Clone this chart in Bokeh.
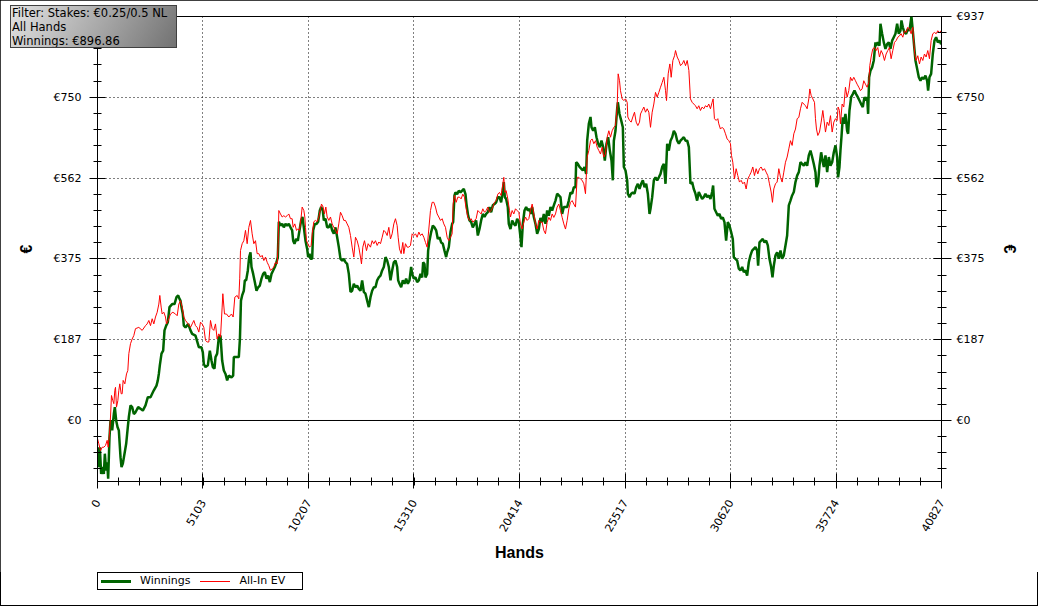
from math import pi
from bokeh.embed import file_html
from bokeh.layouts import column
from bokeh.models import Div, FixedTicker, LinearAxis, Range1d, Span
from bokeh.plotting import figure
from bokeh.resources import INLINE

# axis ticks
x_ticks = [0, 5103, 10207, 15310, 20414, 25517, 30620, 35724, 40827]
y_ticks = [0, 187.4, 374.8, 562.2, 749.6, 937]
y_labels = ["€0", "€187", "€375", "€562", "€750", "€937"]

# All-In EV (red)
ev_hands = [0, 64, 145, 226, 306, 387, 468, 516, 580, 629, 677, 742, 790, 838, 871, 919, 984, 1032, 1080,
            1145, 1193, 1241, 1322, 1403, 1467, 1516, 1596, 1677, 1757, 1838, 1999, 2161, 2322, 2402, 2483,
            2564, 2644, 2725, 2805, 2886, 2967, 3015, 3080, 3128, 3209, 3289, 3338, 3418, 3531, 3644, 3773,
            3854, 3934, 4015, 4095, 4176, 4257, 4386, 4498, 4579, 4660, 4740, 4821, 4902, 4982, 5063, 5143,
            5224, 5305, 5385, 5466, 5547, 5627, 5708, 5788, 5869, 5950, 6030, 6063, 6143, 6240, 6353, 6482,
            6562, 6643, 6756, 6836, 6880, 6917, 6998, 7078, 7159, 7240, 7320, 7401, 7481, 7562, 7643, 7723,
            7804, 7884, 7965, 8046, 8126, 8207, 8288, 8368, 8449, 8529, 8610, 8691, 8739, 8771, 8852, 8933,
            9013, 9094, 9174, 9255, 9335, 9416, 9465, 9545, 9626, 9690, 9771, 9851, 9900, 9981, 10029, 10061,
            10110, 10174, 10255, 10335, 10384, 10464, 10545, 10625, 10706, 10787, 10835, 10916, 10980, 11045,
            11109, 11190, 11270, 11351, 11431, 11512, 11593, 11673, 11754, 11835, 11915, 11996, 12076, 12157,
            12238, 12318, 12399, 12479, 12560, 12641, 12721, 12770, 12834, 12915, 13012, 13092, 13205, 13286,
            13366, 13447, 13528, 13608, 13689, 13770, 13850, 13931, 14011, 14092, 14173, 14253, 14334, 14414,
            14495, 14544, 14608, 14689, 14769, 14817, 14898, 14979, 15059, 15140, 15221, 15301, 15382, 15462,
            15543, 15624, 15704, 15785, 15865, 15946, 16027, 16107, 16188, 16269, 16349, 16430, 16510, 16591,
            16672, 16752, 16833, 16913, 16994, 17075, 17155, 17204, 17268, 17349, 17429, 17510, 17591, 17671,
            17752, 17833, 17913, 17994, 18075, 18155, 18236, 18316, 18397, 18478, 18558, 18639, 18720, 18800,
            18881, 18961, 19042, 19123, 19203, 19284, 19365, 19445, 19526, 19607, 19655, 19703, 19768, 19848,
            19929, 19977, 20058, 20139, 20219, 20300, 20380, 20461, 20542, 20622, 20703, 20784, 20864, 20945,
            21026, 21106, 21187, 21267, 21348, 21428, 21509, 21590, 21670, 21751, 21832, 21912, 21993, 22074,
            22154, 22235, 22316, 22396, 22477, 22557, 22638, 22719, 22799, 22880, 22961, 23041, 23122, 23203,
            23283, 23364, 23445, 23525, 23606, 23687, 23767, 23848, 23928, 24009, 24090, 24170, 24251, 24332,
            24412, 24493, 24574, 24654, 24735, 24816, 24896, 24977, 25057, 25138, 25186, 25251, 25299, 25380,
            25461, 25541, 25622, 25654, 25735, 25816, 25896, 25977, 26058, 26138, 26219, 26267, 26348, 26428,
            26509, 26590, 26670, 26751, 26832, 26912, 26993, 27074, 27154, 27235, 27316, 27396, 27477, 27525,
            27606, 27687, 27751, 27832, 27913, 27961, 28042, 28122, 28203, 28284, 28364, 28445, 28526, 28606,
            28683, 28764, 28844, 28925, 29006, 29086, 29167, 29248, 29328, 29409, 29489, 29570, 29651, 29731,
            29780, 29844, 29925, 30006, 30054, 30135, 30215, 30296, 30377, 30457, 30538, 30619, 30667, 30731,
            30812, 30893, 30973, 31054, 31135, 31215, 31296, 31377, 31457, 31538, 31618, 31699, 31780, 31860,
            31941, 32022, 32102, 32183, 32264, 32344, 32425, 32505, 32586, 32651, 32715, 32796, 32876, 32957,
            33038, 33118, 33199, 33280, 33360, 33441, 33521, 33602, 33683, 33763, 33844, 33925, 34005, 34086,
            34167, 34247, 34328, 34408, 34457, 34521, 34602, 34683, 34731, 34779, 34844, 34925, 35005, 35086,
            35135, 35215, 35296, 35377, 35457, 35538, 35618, 35699, 35778, 35826, 35891, 35939, 36020, 36100,
            36181, 36262, 36342, 36423, 36504, 36584, 36665, 36745, 36826, 36907, 36987, 37068, 37149, 37229,
            37310, 37358, 37423, 37503, 37584, 37665, 37745, 37826, 37907, 37987, 38068, 38149, 38229, 38310,
            38390, 38471, 38552, 38632, 38713, 38793, 38874, 38955, 39035, 39116, 39197, 39277, 39358, 39438,
            39487, 39535, 39600, 39680, 39761, 39842, 39922, 40003, 40083, 40164, 40245, 40325, 40406, 40487,
            40567, 40648, 40728, 40809, 40827]
ev_values = [-42, -54, -70, -62, -62, -58, -46, -62, -31, 8, 58, 46, 39, 70, 77, 31, 46, 70, 85,
             62, 62, 93, 85, 108, 116, 155, 178, 189, 197, 213, 216, 209, 220, 224, 232,
             220, 236, 224, 240, 251, 270, 290, 263, 247, 251, 240, 224, 232, 247, 251, 247,
             243, 270, 278, 263, 240, 232, 224, 216, 224, 232, 220, 216, 205, 228, 224, 216,
             186, 182, 182, 232, 213, 209, 224, 189, 201, 193, 263, 294, 247, 247, 240, 247,
             240, 286, 290, 282, 330, 394, 410, 417, 441, 410, 448, 464, 433, 410, 417, 387,
             387, 379, 383, 371, 379, 367, 359, 348, 352, 356, 367, 363, 410, 487, 479, 472,
             475, 472, 475, 479, 468, 468, 448, 456, 441, 444, 441, 472, 495, 487, 472, 448,
             417, 410, 402, 406, 433, 461, 464, 461, 472, 491, 502, 495, 479, 495,
             472, 464, 472, 456, 448, 441, 433, 456, 483, 475, 464, 464, 456, 448,
             429, 402, 379, 425, 417, 402, 379, 363, 402, 417, 394, 410, 402, 417,
             410, 417, 406, 414, 410, 425, 441, 437, 429, 448, 421, 433, 456, 468,
             452, 425, 398, 387, 413, 387, 410, 402, 402, 406, 433, 429, 433, 425,
             437, 429, 433, 425, 413, 402, 444, 487, 506, 506, 495, 479, 472, 464,
             468, 456, 448, 425, 417, 425, 433, 502, 522, 506, 518, 518, 514, 525,
             518, 491, 472, 464, 468, 460, 464, 468, 487, 483, 479, 491, 483, 487,
             495, 483, 487, 495, 506, 510, 525, 529, 522, 549, 564, 529, 533, 514,
             487, 472, 487, 479, 491, 487, 483, 456, 444, 460, 472, 464, 468, 487,
             502, 479, 456, 444, 464, 460, 460, 441, 433, 460, 471, 464, 479, 471,
             479, 495, 502, 487, 471, 456, 444, 464, 491, 506, 510, 502, 495, 564,
             564, 560, 557, 549, 526, 611, 626, 649, 653, 642, 649, 634, 626, 618,
             634, 611, 618, 657, 672, 657, 672, 680, 684, 727, 804, 788, 765, 746,
             742, 746, 738, 704, 696, 692, 704, 715, 692, 684, 692, 711, 719, 727,
             715, 723, 715, 680, 715, 734, 761, 750, 761, 773, 784, 796, 765, 742,
             804, 827, 796, 835, 846, 858, 843, 835, 823, 827, 835, 823, 835, 812,
             746, 738, 734, 730, 723, 730, 719, 727, 723, 730, 727, 734, 723, 738,
             746, 700, 696, 700, 688, 676, 680, 676, 665, 653, 649, 642, 615, 599,
             560, 584, 568, 553, 557, 549, 553, 537, 560, 568, 576, 588, 568, 584,
             572, 584, 588, 580, 584, 576, 568, 549, 530, 506, 537, 549, 553, 584,
             564, 553, 576, 599, 611, 630, 649, 638, 665, 676, 700, 703, 723, 738,
             734, 730, 723, 746, 769, 754, 746, 738, 700, 676, 661, 669, 692, 719,
             700, 669, 692, 684, 707, 669, 692, 700, 696, 727, 719, 688, 734, 727,
             773, 750, 765, 796, 788, 796, 788, 780, 773, 765, 769, 788, 780, 773,
             784, 823, 843, 862, 865, 858, 865, 843, 858, 850, 835, 850, 858, 865,
             839, 858, 877, 881, 889, 892, 897, 889, 904, 900, 912, 908, 897, 912,
             877, 850, 835, 846, 827, 843, 835, 850, 843, 858, 839, 881, 897, 900,
             897, 904, 900, 904, 900]

# Winnings (green)
win_hands = [0, 64, 113, 177, 226, 306, 355, 419, 468, 516, 580, 629, 710, 790, 838, 903, 968, 1032, 1113,
             1161, 1226, 1306, 1387, 1467, 1516, 1596, 1677, 1757, 1838, 1967, 2080, 2193, 2322, 2435, 2564,
             2644, 2725, 2854, 2918, 2967, 3015, 3096, 3176, 3241, 3322, 3402, 3483, 3612, 3725, 3822, 3902,
             3967, 4015, 4063, 4128, 4176, 4257, 4386, 4498, 4579, 4740, 4902, 5030, 5095, 5143, 5224, 5337,
             5434, 5514, 5579, 5660, 5708, 5788, 5869, 5950, 6030, 6111, 6192, 6272, 6353, 6482, 6562, 6595,
             6756, 6836, 6890, 6940, 6998, 7078, 7127, 7191, 7272, 7336, 7401, 7449, 7530, 7610, 7691, 7772,
             7852, 7933, 8013, 8094, 8175, 8255, 8336, 8417, 8497, 8578, 8658, 8723, 8771, 8852, 8933, 9013,
             9094, 9174, 9255, 9335, 9416, 9465, 9529, 9610, 9690, 9771, 9851, 9916, 9981, 10061, 10142, 10190,
             10255, 10303, 10384, 10432, 10513, 10593, 10674, 10754, 10819, 10899, 10948, 11029, 11109, 11190,
             11270, 11351, 11431, 11512, 11593, 11673, 11754, 11835, 11915, 11996, 12076, 12157, 12238, 12318,
             12399, 12479, 12560, 12641, 12721, 12802, 12883, 12963, 13044, 13124, 13205, 13286, 13366, 13447,
             13528, 13608, 13689, 13770, 13850, 13931, 14011, 14092, 14173, 14253, 14334, 14414, 14495, 14544,
             14608, 14689, 14769, 14850, 14930, 15011, 15092, 15172, 15221, 15301, 15382, 15462, 15543, 15624,
             15704, 15753, 15817, 15865, 15946, 15994, 16059, 16140, 16220, 16301, 16381, 16462, 16543, 16623,
             16704, 16784, 16865, 16913, 16994, 17075, 17155, 17204, 17268, 17317, 17397, 17478, 17559, 17639,
             17720, 17800, 17849, 17929, 17994, 18075, 18155, 18236, 18316, 18397, 18478, 18558, 18639, 18720,
             18800, 18881, 18961, 19042, 19123, 19203, 19284, 19365, 19445, 19526, 19607, 19655, 19703, 19768,
             19848, 19896, 19977, 20058, 20139, 20219, 20300, 20380, 20461, 20509, 20574, 20655, 20735, 20816,
             20896, 20977, 21026, 21106, 21187, 21267, 21348, 21428, 21509, 21590, 21670, 21751, 21832, 21912,
             21993, 22074, 22154, 22235, 22316, 22396, 22477, 22557, 22638, 22719, 22799, 22880, 22961, 23041,
             23122, 23154, 23235, 23316, 23396, 23477, 23557, 23638, 23687, 23767, 23848, 23896, 23977, 24058,
             24138, 24219, 24300, 24380, 24461, 24541, 24622, 24703, 24783, 24864, 24928, 24977, 25057, 25138,
             25170, 25251, 25332, 25412, 25461, 25541, 25622, 25654, 25735, 25816, 25896, 25977, 26058, 26138,
             26219, 26299, 26380, 26461, 26541, 26622, 26703, 26751, 26832, 26912, 26993, 27074, 27154, 27235,
             27316, 27396, 27477, 27557, 27638, 27719, 27799, 27880, 27961, 28042, 28122, 28203, 28284, 28364,
             28445, 28526, 28606, 28683, 28764, 28844, 28925, 29006, 29086, 29167, 29248, 29328, 29409, 29489,
             29570, 29651, 29731, 29780, 29844, 29925, 30006, 30086, 30167, 30248, 30328, 30409, 30490, 30570,
             30651, 30731, 30780, 30860, 30941, 31022, 31102, 31183, 31264, 31344, 31425, 31506, 31586, 31667,
             31747, 31828, 31909, 31957, 32022, 32102, 32183, 32264, 32344, 32425, 32505, 32586, 32651, 32715,
             32796, 32876, 32957, 33038, 33118, 33199, 33280, 33360, 33441, 33521, 33602, 33683, 33763, 33844,
             33925, 34005, 34086, 34167, 34247, 34328, 34408, 34489, 34570, 34650, 34731, 34779, 34860, 34925,
             35005, 35086, 35135, 35215, 35296, 35377, 35457, 35538, 35618, 35699, 35778, 35826, 35891, 35939,
             35987, 36052, 36100, 36181, 36262, 36310, 36375, 36455, 36536, 36617, 36697, 36778, 36858, 36939,
             37020, 37100, 37181, 37229, 37278, 37326, 37390, 37471, 37552, 37632, 37665, 37745, 37826, 37874,
             37955, 38036, 38116, 38197, 38278, 38358, 38439, 38519, 38600, 38681, 38761, 38842, 38890, 38955,
             39035, 39116, 39197, 39277, 39374, 39438, 39503, 39567, 39648, 39729, 39809, 39890, 39971, 40051,
             40132, 40180, 40245, 40325, 40406, 40487, 40567, 40648, 40728, 40809, 40827]
win_values = [-62, -108, -62, -124, -108, -124, -77, -116, -97, -135, -39, 0, -23, 15, 31, 0, -15, -23, -85,
              -108, -100, -77, -54, -15, 8, 35, 31, 15, 19, 31, 27, 23, 35, 54, 54,
              62, 70, 81, 93, 108, 128, 155, 162, 209, 220, 228, 263, 270, 270, 286, 290,
              282, 278, 263, 247, 220, 216, 224, 209, 201, 197, 170, 170, 158, 131, 124, 128,
              162, 139, 124, 120, 147, 155, 193, 197, 139, 116, 108, 93, 104, 100, 104, 147,
              147, 147, 190, 278, 290, 301, 325, 325, 348, 379, 390, 356, 340, 321, 301, 309,
              313, 329, 340, 344, 329, 336, 321, 340, 348, 356, 367, 379, 461, 452, 456, 448,
              456, 452, 456, 448, 441, 417, 410, 421, 417, 441, 464, 472, 448, 417, 398, 379,
              387, 375, 375, 441, 456, 456, 461, 487, 495, 487, 464, 468, 448, 448,
              456, 441, 433, 448, 425, 402, 375, 371, 375, 367, 363, 340, 298, 301,
              317, 309, 313, 305, 301, 325, 298, 294, 278, 263, 286, 301, 309, 309,
              325, 332, 336, 348, 356, 379, 371, 356, 325, 348, 367, 371, 356, 325,
              317, 309, 325, 317, 329, 317, 325, 356, 340, 329, 332, 321, 325, 340,
              332, 367, 363, 332, 340, 394, 417, 437, 452, 448, 441, 421, 425, 413,
              410, 394, 379, 390, 402, 437, 456, 460, 522, 529, 525, 533, 529, 533,
              537, 525, 502, 475, 464, 460, 448, 456, 464, 429, 444, 464, 479, 472,
              479, 483, 495, 483, 499, 502, 506, 518, 518, 506, 533, 553, 518, 514,
              495, 456, 444, 464, 456, 452, 468, 460, 425, 402, 456, 487, 495, 487,
              491, 479, 495, 472, 456, 433, 444, 470, 460, 479, 456, 487, 475, 495,
              487, 499, 510, 526, 522, 518, 479, 495, 495, 495, 510, 529, 526, 541,
              541, 599, 595, 588, 584, 580, 588, 572, 649, 688, 704, 680, 672, 680,
              657, 642, 634, 649, 634, 603, 642, 657, 626, 603, 557, 649, 672, 723,
              738, 711, 696, 680, 588, 580, 557, 526, 518, 526, 529, 526, 541, 549,
              537, 549, 557, 541, 549, 526, 479, 491, 518, 557, 564, 557, 564, 572,
              588, 595, 549, 642, 626, 649, 657, 672, 665, 649, 642, 649, 653, 657,
              649, 649, 634, 549, 553, 537, 526, 510, 530, 522, 514, 518, 526, 518,
              522, 514, 530, 545, 491, 483, 475, 479, 468, 471, 460, 417, 460, 452,
              437, 421, 379, 375, 371, 352, 348, 356, 344, 348, 336, 367, 383, 394,
              398, 402, 394, 359, 413, 417, 421, 413, 417, 406, 375, 356, 332, 359,
              383, 390, 375, 394, 375, 383, 406, 429, 499, 510, 522, 530, 553, 568,
              576, 599, 595, 591, 599, 591, 615, 626, 611, 595, 576, 541, 553, 591,
              622, 599, 588, 615, 576, 611, 591, 599, 622, 638, 611, 564, 588, 626,
              657, 703, 688, 711, 672, 665, 719, 750, 757, 765, 757, 750, 742, 734,
              727, 750, 742, 750, 711, 796, 811, 819, 835, 877, 869, 877, 869, 920,
              897, 877, 862, 873, 877, 862, 881, 889, 897, 920, 897, 904, 928, 912,
              900, 897, 908, 904, 937, 904, 869, 835, 816, 796, 788, 796, 792, 800,
              788, 765, 796, 804, 850, 881, 889, 877, 881, 873, 880]

x_minor = [i * 40827 / 40 for i in range(41)]
y_minor = [i * 937 / 25 for i in range(-3, 26)]
x_ticker = FixedTicker(ticks=x_ticks, minor_ticks=x_minor)
y_ticker = FixedTicker(ticks=y_ticks, minor_ticks=y_minor)

p = figure(frame_width=844, frame_height=465, x_range=Range1d(0, 40827), y_range=Range1d(-141.5, 937),
           output_backend="svg", toolbar_location=None,
           min_border_left=97, min_border_right=97, min_border_top=16, min_border_bottom=91)
p.title.visible = False
p.outline_line_color = "black"
p.background_fill_color = "white"
p.border_fill_color = "white"

xaxis = p.below[0]
yaxis = p.left[0]
yaxis2 = LinearAxis()
p.add_layout(yaxis2, "right")

for ax in [xaxis, yaxis, yaxis2]:
    ax.axis_line_color = "black"
    ax.major_tick_line_color = "black"
    ax.minor_tick_line_color = "black"
    ax.major_label_text_font = "DejaVu Sans"
    ax.major_label_text_font_size = "11px"
    ax.major_label_text_color = "black"
    ax.axis_label_text_font = "Liberation Sans"
    ax.axis_label_text_font_style = "bold"
    ax.axis_label_text_font_size = "16px"
    ax.axis_label_text_color = "black"
    ax.major_tick_in = 8
    ax.minor_tick_in = 4

xaxis.ticker = x_ticker
xaxis.major_label_overrides = {v: str(v) for v in x_ticks}
xaxis.major_label_orientation = pi / 3
xaxis.major_tick_out = 7
xaxis.minor_tick_out = 4
xaxis.major_label_standoff = 12
xaxis.axis_label = "Hands"
xaxis.axis_label_standoff = 6

for ax in [yaxis, yaxis2]:
    ax.ticker = y_ticker
    ax.major_label_overrides = dict(zip(y_ticks, y_labels))
    ax.axis_label = "€"
yaxis.major_tick_out = 8
yaxis.minor_tick_out = 4
yaxis.major_label_standoff = 8
yaxis.axis_label_standoff = 16
yaxis2.major_tick_out = 10
yaxis2.minor_tick_out = 5
yaxis2.major_label_standoff = 5
yaxis2.axis_label_standoff = 14

p.xgrid.ticker = x_ticker
p.ygrid.ticker = y_ticker
for g in [p.xgrid[0], p.ygrid[0]]:
    g.grid_line_color = "black"
    g.grid_line_dash = "1 3"
    g.grid_line_width = 1

p.add_layout(Span(location=0, dimension="width", line_color="black", line_width=1, level="underlay"))

p.line(win_hands, win_values, line_color="#006400", line_width=2.5)
p.line(ev_hands, ev_values, line_color="#ff0000", line_width=1)

# legend strip under the chart
swatch = "display:inline-block;width:30px;height:0;vertical-align:middle;"
legend_box = Div(text='<span style="' + swatch + 'border-top:3px solid #006400;margin:0 9px 0 3px"></span>Winnings'
                      '<span style="' + swatch + 'border-top:1px solid #ff0000;margin:0 9px 0 10px"></span>All-In EV',
                 width=206, height=18, margin=(0, 0, 16, 97),
                 styles={"box-sizing": "border-box", "border": "1px solid black", "background": "white",
                         "white-space": "nowrap", "font-family": "DejaVu Sans", "font-size": "11px",
                         "line-height": "16px", "color": "black", "overflow": "hidden"})

# filter box over the top left corner of the chart
box = Div(text="Filter: Stakes: €0.25/0.5 NL<br>All Hands<br>Winnings: €896.86",
          width=167, height=43, margin=(5, 0, 0, 10),
          styles={"position": "relative", "z-index": "5", "box-sizing": "border-box",
                  "border": "1px solid #404040", "white-space": "nowrap",
                  "background": "linear-gradient(120deg, #e2e2e2 0%, #a6a6a6 55%, #727272 100%)",
                  "font-family": "DejaVu Sans", "font-size": "11.5px", "line-height": "14px",
                  "color": "black", "padding": "0px 1px", "overflow": "hidden"})
p.margin = (-48, 0, 0, 0)

page = column(box, p, legend_box, spacing=0,
              styles={"outline": "1px solid black", "outline-offset": "-1px"})
open("out.html", "w").write(file_html(page, INLINE))
